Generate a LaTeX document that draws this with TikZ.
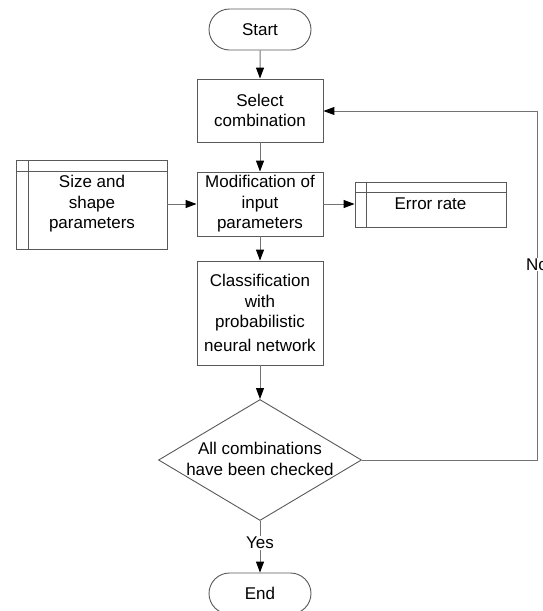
\documentclass[tikz,border=0pt]{standalone}
\usepackage{fontspec}
\setmainfont{Liberation Sans}
\usetikzlibrary{arrows.meta,shapes.misc,shapes.geometric}
\begin{document}
\begin{tikzpicture}[x=1pt,y=-1pt,
  font=\fontsize{17pt}{20.5pt}\selectfont,
  box/.style={draw=black!65, line width=0.9pt, rectangle, inner sep=0pt, align=center},
  term/.style={draw=black!65, line width=0.9pt, rounded rectangle, minimum width=102pt, minimum height=41pt, inner sep=0pt},
  conn/.style={draw=black!55, line width=1pt, -{Triangle[length=11pt,width=8pt,color=black]}},
  lbl/.style={fill=white, inner sep=1pt}]
\useasboundingbox (0,0) rectangle (543,611);
\begin{scope}
\clip (0,0) rectangle (543,611);
\node[term] (start) at (260,29.5) {Start};
\node[box, minimum width=126pt, minimum height=63pt] (select) at (260,110.5) {Select\\combination};
\node[box, minimum width=126pt, minimum height=64pt] (modif) at (260,204) {Modification of\\input\\parameters};
\node[box, minimum width=126pt, minimum height=104pt] (class) at (260,313) {Classification\\with\\probabilistic\\[3pt]neural network};
\node[draw=black!65, line width=0.9pt, diamond, minimum width=203pt, minimum height=121pt, inner sep=0pt] (dec) at (260,460) {};
\node[align=center] (dectext) at (260,459) {All combinations\\have been checked};
\node[term] (end) at (260,593.5) {End};
\node[box, minimum width=151pt, minimum height=89pt] (size) at (91.5,204.5) {};
\node[align=center] (sizetext) at (92,204) {Size and\\shape\\parameters};
\draw[black!65, line width=0.9pt] ([yshift=-12pt]size.north west) -- ([yshift=-12pt]size.north east);
\draw[black!65, line width=0.9pt] ([xshift=12.5pt]size.north west) -- ([xshift=12.5pt]size.south west);
\node[box, minimum width=151pt, minimum height=45pt] (err) at (430.5,204.5) {};
\node (errtext) at (430.5,204) {Error rate};
\draw[black!65, line width=0.9pt] ([yshift=-11pt]err.north west) -- ([yshift=-11pt]err.north east);
\draw[black!65, line width=0.9pt] ([xshift=12pt]err.north west) -- ([xshift=12pt]err.south west);
\coordinate (c1) at (537,460);
\coordinate (c2) at (537,111);
\draw[conn] (start) -- (select);
\draw[conn] (select) -- (modif);
\draw[conn] (modif) -- (class);
\draw[conn] (class) -- (dec);
\draw[conn] (size.east |- modif.east) -- (modif.west);
\draw[conn] (modif.east) -- (err.west |- modif.east);
\draw[conn] (dec.south) -- node[lbl, pos=0.42] (yes) {Yes} (end.north);
\draw[conn] (dec.east) -- (c1) -- node[lbl, pos=0.56] (no) {No} (c2) -- (select.east |- c2);
\end{scope}
\end{tikzpicture}
\end{document}
